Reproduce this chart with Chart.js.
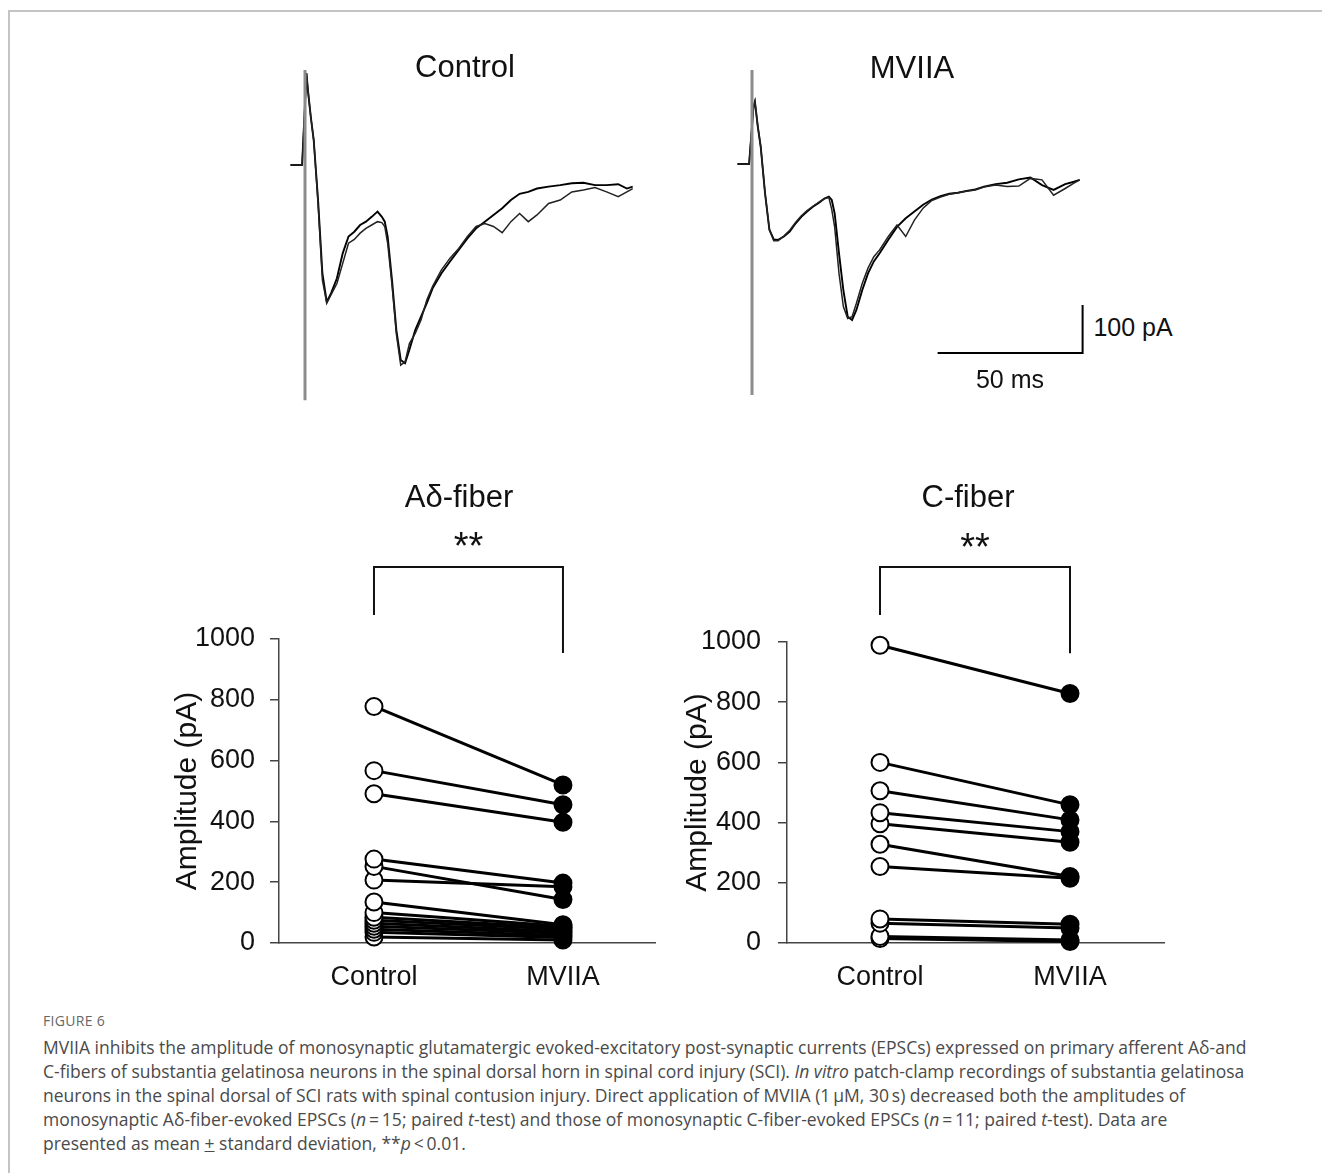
<!DOCTYPE html>
<html>
<head>
<meta charset="utf-8">
<title>Figure 6</title>
<script src="https://cdn.jsdelivr.net/npm/chart.js@4.4.1/dist/chart.umd.min.js"></script>
<style>
  body { margin: 0; background: #fff; width: 1322px; height: 1173px; position: relative; overflow: hidden;
         font-family: "Liberation Sans", Arial, sans-serif; color: #111; }
  .frame { position: absolute; left: 8px; top: 10px; right: 0; bottom: 0;
           border-top: 2px solid #c4c4c4; border-left: 2px solid #c4c4c4; }
  canvas { position: absolute; }
  .lbl { position: absolute; white-space: nowrap; transform: translate(-50%, -50%); }
  .title { font-size: 31px; }
  .bar-lbl { font-size: 25px; }
  .fig-no { position: absolute; left: 43px; top: 1011px; font-family: "Open Sans", sans-serif;
            font-size: 14px; color: #666; letter-spacing: 0.3px; }
  .caption { position: absolute; left: 43px; top: 1035px; font-family: "Open Sans", sans-serif;
             font-size: 17.5px; line-height: 24px; color: #4a4a4a; white-space: nowrap; }
</style>
</head>
<body>
<div class="frame"></div>

<canvas id="traceCtrl" width="360" height="360" style="left:285px; top:50px;"></canvas>
<canvas id="traceMviia" width="360" height="360" style="left:730px; top:50px;"></canvas>
<canvas id="dotAd" width="520" height="530" style="left:150px; top:470px;"></canvas>
<canvas id="dotC" width="520" height="530" style="left:660px; top:470px;"></canvas>

<div class="lbl title" style="left:465px; top:67px;">Control</div>
<div class="lbl title" style="left:912px; top:68px;">MVIIA</div>
<div class="lbl bar-lbl" style="left:1133px; top:327px;">100 pA</div>
<div class="lbl bar-lbl" style="left:1010px; top:379px;">50 ms</div>
<div class="lbl title" style="left:459px; top:497px;">Aδ-fiber</div>
<div class="lbl title" style="left:968px; top:497px;">C-fiber</div>

<div class="fig-no">FIGURE 6</div>
<div class="caption">MVIIA inhibits the amplitude of monosynaptic glutamatergic evoked-excitatory post-synaptic currents (EPSCs) expressed on primary afferent Aδ-and<br>C-fibers of substantia gelatinosa neurons in the spinal dorsal horn in spinal cord injury (SCI). <i>In vitro</i> patch-clamp recordings of substantia gelatinosa<br>neurons in the spinal dorsal of SCI rats with spinal contusion injury. Direct application of MVIIA (1&#8201;μM, 30&#8201;s) decreased both the amplitudes of<br>monosynaptic Aδ-fiber-evoked EPSCs (<i>n</i>&#8201;=&#8201;15; paired <i>t</i>-test) and those of monosynaptic C-fiber-evoked EPSCs (<i>n</i>&#8201;=&#8201;11; paired <i>t</i>-test). Data are<br>presented as mean <u>+</u> standard deviation, **<i>p</i>&#8201;&lt;&#8201;0.01.</div>

<script>
// Paired amplitudes (pA), one entry per neuron
const groups = ['Control', 'MVIIA'];
const yTicks = [0, 200, 400, 600, 800, 1000];
const adControl = [778, 567, 491, 276, 252, 207, 135, 100, 85, 75, 65, 55, 45, 35, 20];
const adMviia   = [520, 455, 397, 197, 143, 185, 60, 55, 50, 45, 38, 32, 25, 18, 10];
const cControl  = [989, 600, 506, 433, 396, 328, 254, 80, 66, 22, 15];
const cMviia    = [829, 459, 409, 370, 335, 221, 215, 62, 50, 10, 5];

// Example EPSC traces: time from stimulus (ms) and current (pA), two sweeps each
const traceMs = [-5, -1, 0.5, 1, 2, 3, 4.5, 6, 7.5, 9, 11, 13, 15, 17, 19, 21, 23, 25, 26.5, 27.5,
  28.5, 30, 31.5, 33, 34.5, 36, 38, 40, 42, 44, 47, 50, 53, 56, 59, 62, 65, 68, 71, 74,
  77, 80, 84, 88, 92, 96, 100, 104, 108, 111, 113];
const ctrlSweep1 = [0, 0, 191, 156, 100, 52, -73, -226, -285, -267,
  -236, -184, -149, -139, -125, -118, -108, -97, -108, -118,
  -149, -240, -344, -406, -413, -385, -344, -316, -288, -257,
  -226, -201, -177, -153, -132, -118, -104, -90, -73, -60,
  -56, -49, -45, -42, -38, -37, -42, -42, -40, -49, -45];
const ctrlSweep2 = [0, 0, 191, 156, 100, 52, -80, -240, -288, -270,
  -247, -205, -163, -155, -142, -132, -125, -118, -120, -128,
  -163, -250, -352, -417, -410, -372, -351, -323, -281, -253,
  -219, -194, -174, -149, -128, -122, -128, -141, -118, -101,
  -118, -104, -80, -73, -56, -52, -47, -56, -66, -56, -49];
const mvSweep1 = [0, 0, 119, 130, 78, 36, -61, -137, -157, -158,
  -151, -141, -124, -110, -99, -89, -81, -72, -68, -75,
  -103, -186, -263, -318, -325, -304, -263, -228, -203, -186,
  -158, -131, -113, -99, -85, -74, -67, -62, -60, -56,
  -53, -47, -42, -39, -32, -28, -44, -54, -42, -37, -33];
const mvSweep2 = [0, 0, 119, 130, 78, 36, -61, -137, -160, -160,
  -150, -138, -122, -108, -97, -88, -80, -72, -70, -95,
  -131, -228, -297, -322, -318, -290, -249, -217, -193, -179,
  -151, -127, -151, -117, -92, -76, -69, -63, -60, -57,
  -54, -48, -44, -47, -46, -30, -33, -65, -51, -40, -33];

// stimulus artefact (pA, at t = 0) and scale bar (50 ms x 100 pA)
const stimCtrlPa = [198, -490];
const stimMviiaPa = [196, -481];
const scaleBarMs = [64, 114, 114];
const scaleBarPa = [-394, -394, -294];

const fontFam = '"Liberation Sans", Arial, sans-serif';

function pts(xs, ys) {
  return xs.map((x, i) => ({x: x, y: ys[i]}));
}

// Trace panels
function traceChart(id, s1, s2, stim, lim, withBar) {
  const datasets = [
    {data: pts([0, 0], stim), borderColor: '#8c8c8c', borderWidth: 3},
    {data: pts(traceMs, s2), borderColor: '#222', borderWidth: 1.5},
    {data: pts(traceMs, s1), borderColor: '#000', borderWidth: 1.9}
  ];
  if (withBar) {
    datasets.push({data: pts(scaleBarMs, scaleBarPa), borderColor: '#000', borderWidth: 2});
  }
  datasets.forEach(d => { d.pointRadius = 0; d.tension = 0; d.clip = false; });
  new Chart(document.getElementById(id), {
    type: 'line',
    data: {datasets},
    options: {
      responsive: false, animation: false, devicePixelRatio: 1,
      plugins: {legend: {display: false}, tooltip: {enabled: false}},
      scales: {
        x: {type: 'linear', display: false, min: lim[0], max: lim[1]},
        y: {type: 'linear', display: false, min: lim[2], max: lim[3]}
      }
    }
  });
}

traceChart('traceCtrl', ctrlSweep1, ctrlSweep2, stimCtrlPa, [-6.9, 117.24, -510.4, 239.6], false);
traceChart('traceMviia', mvSweep1, mvSweep2, stimMviiaPa, [-7.59, 116.55, -512.5, 237.5], true);

// significance bracket drawn above the chart area
const bracketPlugin = {
  id: 'bracket',
  afterDraw(chart, args, opts) {
    const {ctx, scales: {x, y}} = chart;
    const x0 = x.getPixelForValue(0), x1 = x.getPixelForValue(1);
    const yTop = y.getPixelForValue(opts.top);
    ctx.save();
    ctx.strokeStyle = '#111';
    ctx.lineWidth = 2;
    ctx.beginPath();
    ctx.moveTo(x0, y.getPixelForValue(opts.leftEnd));
    ctx.lineTo(x0, yTop);
    ctx.lineTo(x1, yTop);
    ctx.lineTo(x1, y.getPixelForValue(opts.rightEnd));
    ctx.stroke();
    ctx.fillStyle = '#111';
    ctx.font = '38px ' + fontFam;
    ctx.textAlign = 'center';
    ctx.textBaseline = 'middle';
    ctx.fillText(opts.label, (x0 + x1) / 2, yTop - 18);
    ctx.restore();
  }
};

function dotChart(id, ctrl, mv, area, bracket) {
  const datasets = ctrl.map((c, i) => ({
    data: pts([0, 1], [c, mv[i]]),
    borderColor: '#000',
    borderWidth: 3,
    pointRadius: 8.5,
    pointBorderWidth: 2,
    pointBorderColor: '#000',
    pointBackgroundColor: ['#fff', '#000'],
    clip: false
  }));
  new Chart(document.getElementById(id), {
    type: 'line',
    data: {datasets},
    plugins: [bracketPlugin],
    options: {
      responsive: false, animation: false, devicePixelRatio: 1,
      layout: {padding: {top: area.top, right: area.right, left: 0, bottom: 0}},
      plugins: {legend: {display: false}, tooltip: {enabled: false}, bracket: bracket},
      scales: {
        x: {
          type: 'linear', min: area.xMin, max: area.xMax,
          afterFit: s => { s.height = area.xAxisH; },
          afterBuildTicks: s => { s.ticks = groups.map((g, i) => ({value: i})); },
          ticks: {callback: v => groups[v], color: '#111', font: {family: fontFam, size: 27},
                  padding: 10, autoSkip: false, maxRotation: 0},
          grid: {display: false},
          border: {color: '#444', width: 1.5}
        },
        y: {
          type: 'linear', min: 0, max: 1000,
          afterFit: s => { s.width = area.yAxisW; },
          afterBuildTicks: s => { s.ticks = yTicks.map(v => ({value: v})); },
          ticks: {callback: v => String(v), color: '#111', font: {family: fontFam, size: 27},
                  padding: area.tickPad},
          grid: {drawOnChartArea: false, tickLength: 9, color: '#444', lineWidth: 1.5},
          border: {color: '#444', width: 1.5},
          title: {display: true, text: 'Amplitude (pA)', color: '#111',
                  font: {family: fontFam, size: 30}, padding: {top: 20, bottom: 0}}
        }
      }
    }
  });
}

dotChart('dotAd', adControl, adMviia,
  {top: 169, right: 15, xAxisH: 57, yAxisW: 129, tickPad: 15, xMin: -0.5026, xMax: 1.487},
  {top: 1237, leftEnd: 1079, rightEnd: 954, label: '**'});
dotChart('dotC', cControl, cMviia,
  {top: 172, right: 16, xAxisH: 57, yAxisW: 127, tickPad: 17, xMin: -0.4895, xMax: 1.4947},
  {top: 1249, leftEnd: 1090, rightEnd: 963, label: '**'});
</script>
</body>
</html>
